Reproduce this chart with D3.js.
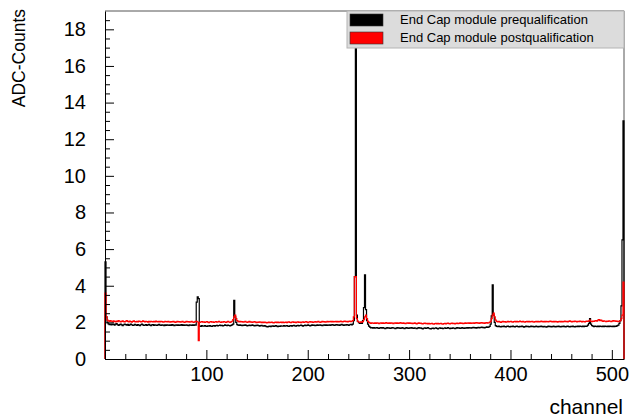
<!DOCTYPE html>
<html>
<head>
<meta charset="utf-8">
<script src="https://cdn.jsdelivr.net/npm/d3@7.9.0/dist/d3.min.js"></script>
<style>
  body { margin: 0; background: #fff; }
  svg { display: block; font-family: "Liberation Sans", Arial, sans-serif; }
</style>
</head>
<body>
<svg width="629" height="419"></svg>
<script>
// Histogram contents, one value per channel (0..511):
const prequal = [
  5.3, 2.3, 2.0, 1.92, 1.88, 1.9, 1.86, 1.91, 1.89, 1.85, 1.9, 1.93, 1.87, 1.84, 1.88, 1.9,
  1.86, 1.82, 1.87, 1.91, 1.88, 1.85, 1.89, 1.84, 1.86, 1.9, 1.87, 1.83, 1.85, 1.89, 1.86, 1.84,
  1.88, 1.85, 1.82, 1.87, 1.9, 1.86, 1.83, 1.85, 1.88, 1.84, 1.86, 1.89, 1.85, 1.82, 1.86, 1.88,
  1.84, 1.87, 1.85, 1.83, 1.86, 1.89, 1.85, 1.84, 1.87, 1.85, 1.82, 1.86, 1.84, 1.87, 1.85, 1.83,
  1.86, 1.84, 1.88, 1.85, 1.82, 1.85, 1.87, 1.84, 1.86, 1.83, 1.85, 1.88, 1.84, 1.86, 1.83, 1.85,
  1.87, 1.84, 1.82, 1.86, 1.85, 1.83, 1.86, 1.84, 1.87, 1.85, 3.1, 3.4, 3.3, 1.8, 1.78, 1.82,
  1.8, 1.79, 1.82, 1.8, 1.78, 1.81, 1.79, 1.83, 1.8, 1.78, 1.81, 1.83, 1.8, 1.82, 1.84, 1.81,
  1.83, 1.85, 1.82, 1.84, 1.81, 1.83, 1.86, 1.84, 1.82, 1.85, 1.83, 1.81, 1.84, 1.86, 1.9, 3.2,
  2.3, 2.0, 1.88, 1.85, 1.83, 1.86, 1.84, 1.82, 1.85, 1.83, 1.86, 1.84, 1.81, 1.83, 1.85, 1.82,
  1.84, 1.86, 1.83, 1.81, 1.84, 1.82, 1.85, 1.83, 1.8, 1.82, 1.84, 1.81, 1.79, 1.82, 1.8, 1.77,
  1.75, 1.78, 1.8, 1.77, 1.79, 1.81, 1.78, 1.8, 1.82, 1.79, 1.77, 1.8, 1.78, 1.81, 1.79, 1.8,
  1.82, 1.79, 1.81, 1.83, 1.8, 1.78, 1.81, 1.83, 1.8, 1.82, 1.84, 1.81, 1.79, 1.82, 1.84, 1.81,
  1.83, 1.85, 1.82, 1.8, 1.83, 1.85, 1.82, 1.84, 1.86, 1.83, 1.81, 1.84, 1.86, 1.83, 1.85, 1.82,
  1.84, 1.86, 1.83, 1.85, 1.87, 1.84, 1.82, 1.85, 1.87, 1.84, 1.86, 1.83, 1.85, 1.87, 1.84, 1.86,
  1.88, 1.85, 1.83, 1.86, 1.88, 1.85, 1.87, 1.84, 1.86, 1.89, 1.86, 1.84, 1.87, 1.85, 1.88, 1.86,
  1.84, 1.87, 1.89, 1.86, 1.9, 2.1, 4.5, 17.0, 2.4, 2.05, 1.98, 1.95, 1.97, 1.95, 2.1, 2.8,
  4.6, 2.7, 2.1, 1.9, 1.8, 1.74, 1.7, 1.72, 1.69, 1.71, 1.68, 1.7, 1.72, 1.69, 1.67, 1.7,
  1.72, 1.69, 1.71, 1.68, 1.66, 1.69, 1.71, 1.68, 1.7, 1.67, 1.69, 1.72, 1.7, 1.68, 1.66, 1.69,
  1.71, 1.68, 1.7, 1.67, 1.69, 1.71, 1.68, 1.66, 1.69, 1.71, 1.69, 1.67, 1.7, 1.68, 1.71, 1.69,
  1.67, 1.7, 1.68, 1.66, 1.69, 1.71, 1.68, 1.7, 1.67, 1.65, 1.68, 1.7, 1.67, 1.69, 1.71, 1.68,
  1.66, 1.64, 1.67, 1.69, 1.66, 1.68, 1.7, 1.67, 1.65, 1.68, 1.7, 1.67, 1.69, 1.66, 1.68, 1.7,
  1.67, 1.69, 1.71, 1.68, 1.66, 1.69, 1.67, 1.7, 1.68, 1.66, 1.69, 1.71, 1.68, 1.7, 1.67, 1.69,
  1.72, 1.69, 1.67, 1.7, 1.68, 1.71, 1.69, 1.72, 1.7, 1.68, 1.71, 1.73, 1.7, 1.72, 1.69, 1.71,
  1.73, 1.7, 1.72, 1.74, 1.71, 1.73, 1.7, 1.72, 1.75, 1.72, 1.74, 1.78, 1.9, 2.35, 4.05, 2.4,
  2.0, 1.82, 1.78, 1.76, 1.79, 1.77, 1.75, 1.78, 1.76, 1.79, 1.77, 1.75, 1.78, 1.8, 1.77, 1.75,
  1.78, 1.76, 1.79, 1.77, 1.75, 1.78, 1.8, 1.77, 1.75, 1.78, 1.76, 1.79, 1.77, 1.74, 1.77, 1.79,
  1.76, 1.78, 1.75, 1.77, 1.79, 1.76, 1.78, 1.75, 1.77, 1.8, 1.77, 1.75, 1.78, 1.76, 1.79, 1.77,
  1.75, 1.78, 1.76, 1.74, 1.77, 1.79, 1.76, 1.78, 1.75, 1.77, 1.8, 1.77, 1.75, 1.78, 1.76, 1.79,
  1.77, 1.75, 1.78, 1.76, 1.79, 1.77, 1.75, 1.78, 1.8, 1.77, 1.75, 1.78, 1.76, 1.79, 1.77, 1.75,
  1.78, 1.76, 1.79, 1.77, 1.8, 1.78, 1.76, 1.79, 1.77, 1.8, 1.78, 1.8, 1.85, 1.95, 2.2, 1.9,
  1.82, 1.79, 1.77, 1.8, 1.78, 1.76, 1.79, 1.77, 1.8, 1.78, 1.76, 1.79, 1.77, 1.8, 1.78, 1.76,
  1.79, 1.77, 1.8, 1.78, 1.76, 1.79, 1.77, 1.8, 1.78, 1.82, 1.85, 1.95, 2.1, 2.9, 6.5, 13.0
];

const postqual = [
  3.6, 2.3, 2.12, 2.08, 2.05, 2.1, 2.06, 2.03, 2.08, 2.05, 2.02, 2.07, 2.04, 2.09, 2.06, 2.03,
  2.05, 2.08, 2.04, 2.02, 2.06, 2.09, 2.05, 2.03, 2.07, 2.04, 2.01, 2.05, 2.08, 2.04, 2.02, 2.06,
  2.03, 2.07, 2.05, 2.02, 2.04, 2.08, 2.05, 2.03, 2.06, 2.04, 2.01, 2.05, 2.03, 2.06, 2.04, 2.02,
  2.05, 2.03, 2.07, 2.04, 2.02, 2.05, 2.03, 2.06, 2.04, 2.01, 2.03, 2.06, 2.04, 2.02, 2.05, 2.03,
  2.01, 2.04, 2.02, 2.05, 2.03, 2.0, 2.03, 2.05, 2.02, 2.04, 2.01, 2.03, 2.05, 2.02, 2.0, 2.03,
  2.05, 2.02, 2.04, 2.01, 2.03, 2.05, 2.02, 2.0, 2.03, 2.05, 2.06, 2.02, 1.0, 2.0, 2.02, 2.04,
  2.01, 2.03, 2.0, 2.02, 2.04, 2.01, 1.99, 2.02, 2.04, 2.01, 2.03, 2.0, 2.02, 2.04, 2.01, 2.03,
  2.05, 2.02, 2.0, 2.03, 2.01, 2.04, 2.02, 2.0, 2.03, 2.05, 2.02, 2.0, 2.03, 2.06, 2.15, 2.3,
  2.4, 2.2, 2.1, 2.05, 2.03, 2.06, 2.02, 2.04, 2.01, 2.03, 2.05, 2.02, 2.0, 2.03, 2.05, 2.01,
  2.03, 2.0, 2.02, 2.04, 2.01, 1.99, 2.02, 2.0, 2.03, 2.01, 1.98, 2.01, 1.99, 2.02, 2.0, 1.97,
  1.99, 2.01, 1.98, 2.0, 2.02, 1.99, 1.97, 2.0, 2.02, 1.99, 2.01, 1.98, 2.0, 2.02, 1.99, 2.01,
  1.98, 2.0, 2.02, 1.99, 2.01, 2.03, 2.0, 1.98, 2.01, 2.03, 2.0, 2.02, 1.99, 2.01, 2.03, 2.0,
  2.02, 1.99, 2.01, 2.03, 2.0, 2.02, 2.04, 2.01, 1.99, 2.02, 2.04, 2.01, 2.03, 2.0, 2.02, 2.04,
  2.01, 2.03, 2.05, 2.02, 2.0, 2.03, 2.05, 2.02, 2.04, 2.01, 2.03, 2.05, 2.02, 2.04, 2.06, 2.03,
  2.05, 2.02, 2.04, 2.06, 2.03, 2.05, 2.02, 2.04, 2.07, 2.04, 2.02, 2.05, 2.07, 2.04, 2.06, 2.03,
  2.05, 2.07, 2.04, 2.06, 2.1, 2.3, 4.5, 4.5, 2.2, 2.05, 2.02, 2.0, 2.03, 2.01, 2.04, 2.15,
  2.3, 2.4, 2.2, 2.05, 2.0, 1.97, 1.95, 1.98, 1.96, 1.94, 1.97, 1.95, 1.98, 1.96, 1.93, 1.96,
  1.98, 1.95, 1.97, 1.94, 1.96, 1.99, 1.96, 1.94, 1.97, 1.95, 1.98, 1.96, 1.93, 1.96, 1.98, 1.95,
  1.97, 1.94, 1.96, 1.99, 1.96, 1.94, 1.97, 1.95, 1.93, 1.96, 1.98, 1.95, 1.97, 1.94, 1.96, 1.93,
  1.95, 1.97, 1.94, 1.92, 1.95, 1.97, 1.94, 1.96, 1.93, 1.91, 1.94, 1.96, 1.93, 1.95, 1.92, 1.94,
  1.91, 1.93, 1.95, 1.92, 1.9, 1.93, 1.95, 1.92, 1.94, 1.91, 1.93, 1.95, 1.92, 1.9, 1.93, 1.95,
  1.92, 1.94, 1.96, 1.93, 1.91, 1.94, 1.96, 1.93, 1.95, 1.92, 1.94, 1.96, 1.93, 1.95, 1.97, 1.94,
  1.96, 1.93, 1.95, 1.97, 1.94, 1.96, 1.98, 1.95, 1.97, 1.94, 1.96, 1.98, 1.95, 1.97, 1.99, 1.96,
  1.98, 1.95, 1.97, 1.99, 1.96, 1.98, 1.95, 1.97, 1.99, 1.96, 1.98, 2.0, 2.05, 2.2, 2.4, 2.5,
  2.3, 2.12, 2.05, 2.02, 2.05, 2.03, 2.0, 2.03, 2.05, 2.02, 2.04, 2.01, 2.03, 2.05, 2.02, 2.04,
  2.06, 2.03, 2.01, 2.04, 2.06, 2.03, 2.05, 2.02, 2.04, 2.07, 2.04, 2.02, 2.05, 2.03, 2.01, 2.04,
  2.06, 2.03, 2.05, 2.02, 2.04, 2.06, 2.03, 2.01, 2.04, 2.06, 2.03, 2.05, 2.02, 2.04, 2.07, 2.04,
  2.02, 2.05, 2.03, 2.06, 2.04, 2.02, 2.05, 2.07, 2.04, 2.02, 2.05, 2.03, 2.06, 2.04, 2.01, 2.04,
  2.06, 2.03, 2.05, 2.02, 2.04, 2.07, 2.04, 2.06, 2.03, 2.05, 2.08, 2.05, 2.03, 2.06, 2.04, 2.07,
  2.05, 2.03, 2.06, 2.04, 2.07, 2.05, 2.03, 2.06, 2.04, 2.02, 2.05, 2.07, 2.05, 2.08, 2.12, 2.06,
  2.04, 2.07, 2.05, 2.08, 2.1, 2.07, 2.12, 2.15, 2.1, 2.13, 2.08, 2.05, 2.08, 2.06, 2.04, 2.07,
  2.05, 2.08, 2.06, 2.04, 2.07, 2.1, 2.06, 2.08, 2.05, 2.07, 2.04, 2.06, 2.1, 2.2, 2.4, 4.2
];

// Axis ticks and labels:
const xTicks = [100, 200, 300, 400, 500];
const yTicks = [0, 2, 4, 6, 8, 10, 12, 14, 16, 18];
const seriesNames = ['End Cap module prequalification', 'End Cap module postqualification'];
const seriesColors = ['#000000', '#ff0000'];

const svg = d3.select('svg');

// Frame edges in pixels:
const frameLeft = 105, frameRight = 624, frameTop = 11, frameBottom = 359;

let x = d3.scaleLinear().domain([0, 512]).range([frameLeft, frameRight]);
let y = d3.scaleLinear().domain([0, 19]).range([frameBottom, frameTop]);

// Frame (top + right edges):
svg.append('path')
  .attr('d', `M${frameLeft},${frameTop}H${frameRight}V${frameBottom}`)
  .attr('fill', 'none')
  .attr('stroke', '#555')
  .attr('stroke-width', 1);

// Histogram outline, starting and ending on the baseline like ROOT does:
function histPoints(values) {
  let pts = [[0, 0]];
  values.forEach((v, i) => pts.push([i, v]));
  pts.push([values.length, values[values.length - 1]]);
  pts.push([values.length, 0]);
  return pts;
}

let line = d3.line()
  .x((d) => x(d[0]))
  .y((d) => y(d[1]))
  .curve(d3.curveStepAfter);

[prequal, postqual].forEach((values, idx) => {
  svg.append('path')
    .attr('d', line(histPoints(values)))
    .attr('fill', 'none')
    .attr('stroke', seriesColors[idx])
    .attr('stroke-width', 1.2);
});

// Minor ticks:
let xMinor = d3.range(20, 512, 20).filter((v) => v % 100 !== 0);
let yMinor = d3.range(0.5, 19, 0.5).filter((v) => v % 2 !== 0);

svg.append('g')
  .attr('transform', `translate(0,${frameBottom})`)
  .call(d3.axisBottom(x).tickValues(xMinor).tickFormat('').tickSizeInner(-5).tickSizeOuter(0))
  .call((g) => g.select('.domain').remove());

svg.append('g')
  .attr('transform', `translate(${frameLeft},0)`)
  .call(d3.axisLeft(y).tickValues(yMinor).tickFormat('').tickSizeInner(-5).tickSizeOuter(0))
  .call((g) => g.select('.domain').remove());

// Major ticks + labels:
let xAxis = svg.append('g')
  .attr('transform', `translate(0,${frameBottom})`)
  .call(d3.axisBottom(x).tickValues(xTicks).tickSizeInner(-9).tickSizeOuter(0).tickPadding(8));

let yAxis = svg.append('g')
  .attr('transform', `translate(${frameLeft},0)`)
  .call(d3.axisLeft(y).tickValues(yTicks).tickSizeInner(-9).tickSizeOuter(0).tickPadding(19));

[xAxis, yAxis].forEach((g) => {
  g.selectAll('text')
    .attr('font-size', 20)
    .attr('font-family', '"Liberation Sans", Arial, sans-serif')
    .attr('fill', '#000');
  g.selectAll('line').attr('stroke', '#000');
  g.select('.domain').attr('stroke', '#000');
});

// Axis titles:
svg.append('text')
  .attr('x', frameRight - 1)
  .attr('y', 414)
  .attr('text-anchor', 'end')
  .attr('font-size', 21)
  .text('channel');

svg.append('text')
  .attr('transform', 'translate(25,9) rotate(-90)')
  .attr('text-anchor', 'end')
  .attr('font-size', 17.5)
  .text('ADC-Counts');

// Legend box:
let legend = svg.append('g');
legend.append('rect')
  .attr('x', 347).attr('y', frameTop)
  .attr('width', frameRight - 347).attr('height', 37)
  .attr('fill', '#dcdcdc')
  .attr('stroke', '#b4b4b4')
  .attr('stroke-width', 1);

seriesNames.forEach((name, idx) => {
  legend.append('rect')
    .attr('x', 350).attr('y', 14 + idx * 18)
    .attr('width', 33).attr('height', 12)
    .attr('fill', seriesColors[idx])
    .attr('stroke', '#333')
    .attr('stroke-width', 0.6);
  legend.append('text')
    .attr('x', 400).attr('y', 20.5 + idx * 18)
    .attr('dominant-baseline', 'middle')
    .attr('font-size', 13)
    .text(name);
});
</script>
</body>
</html>
